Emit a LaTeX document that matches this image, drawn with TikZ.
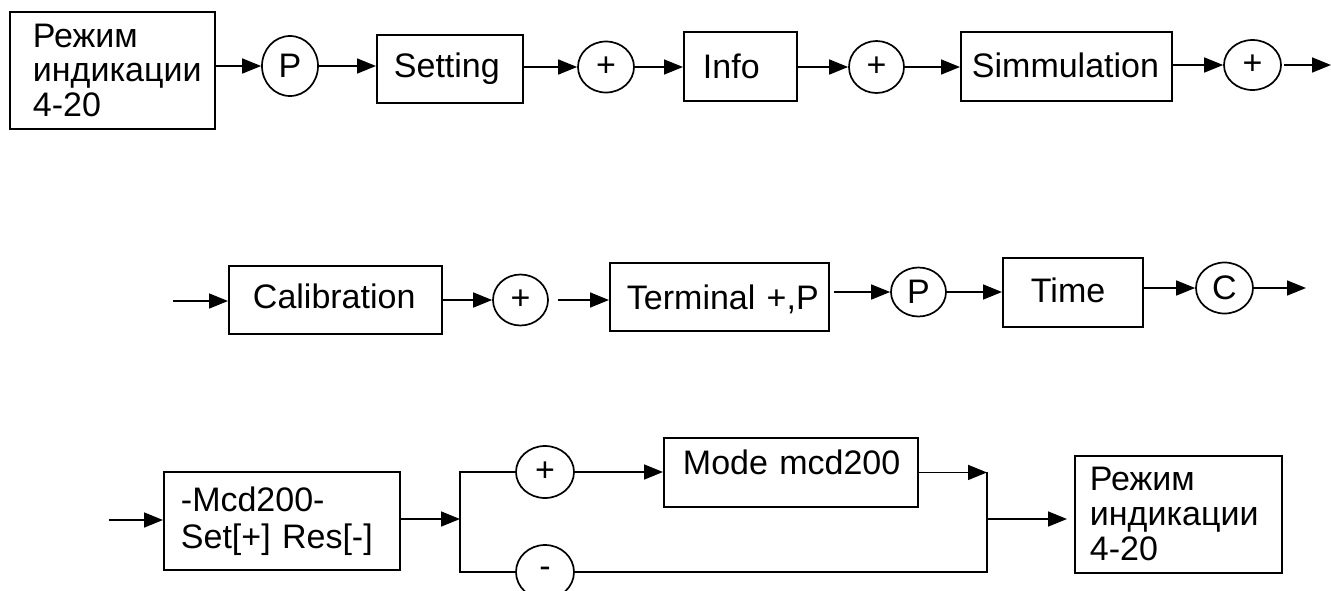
\documentclass[tikz,border=0pt]{standalone}
\usepackage{fontspec}
\setmainfont{Liberation Sans}
\usetikzlibrary{arrows.meta,shapes.geometric}
\hyphenpenalty=10000
\exhyphenpenalty=10000
\begin{document}
\begin{tikzpicture}[x=1pt,y=-1pt,
  lbl/.style={font=\fontsize{34}{34}\selectfont},
  blk/.style={draw, line width=1.9pt, inner sep=0pt, anchor=north west, align=left, lbl},
  one/.style={blk, text height=24.3pt},
  rnd/.style={draw, ellipse, line width=1.7pt, inner sep=0pt, lbl},
  arr/.style={line width=1.6pt, -{Triangle[length=19pt,width=15pt]}},
  ln/.style={line width=1.6pt}]
\useasboundingbox (0,0) rectangle (1331,590);
\fill[white] (0,0) rectangle (1331,590);
% row 1
\node[blk, font=\fontsize{34}{34.5}\selectfont, minimum width=205pt, minimum height=117pt, text width=159pt] (b1) at (9,11) {Режим\\индикации\\4-20};
\node[rnd, minimum width=56pt, minimum height=60pt] (p1) at (290,66) {P};
\node[one, text depth=6.3pt, minimum width=146pt, minimum height=68pt, text width=112pt] (setting) at (376,34) {Setting};
\node[rnd, minimum width=56pt, minimum height=51pt] (c1) at (606,67) {+};
\node[one, text depth=0pt, minimum width=113pt, minimum height=69pt, text width=75pt] (info) at (683,31) {Info};
\node[rnd, minimum width=55pt, minimum height=52pt] (c2) at (876.5,67) {+};
\node[one, text depth=1.3pt, minimum width=211pt, minimum height=69pt, text width=189pt] (simm) at (960,31) {Simmulation};
\node[rnd, minimum width=57pt, minimum height=50pt] (c3) at (1252.5,65) {+};
\coordinate (o1) at (1331,64);
% row 2
\coordinate (i2) at (173,301);
\node[one, text depth=6.3pt, minimum width=213pt, minimum height=68pt, text width=165pt] (calib) at (228,265) {Calibration};
\node[rnd, minimum width=55pt, minimum height=51pt] (c4) at (520.5,300) {+};
\node[one, text depth=0pt, minimum width=219pt, minimum height=68pt, text width=185pt] (term) at (609,262) {Terminal~+,P};
\node[rnd, minimum width=55pt, minimum height=49pt] (p2) at (918.5,292) {P};
\node[one, text depth=3.3pt, minimum width=140pt, minimum height=69pt, text width=84pt] (time) at (1002,257) {Time};
\node[rnd, minimum width=57pt, minimum height=51pt] (cc) at (1224.5,288) {C};
\coordinate (o2) at (1306,288);
% row 3
\coordinate (i3) at (109,520);
\node[blk, font=\fontsize{34}{37}\selectfont, minimum width=236pt, minimum height=98pt, text width=202pt] (mcd) at (163,471) {-Mcd200-\\Set[+]~Res[-]};
\coordinate (jl) at (460,519);
\node[rnd, minimum width=58pt, minimum height=52pt] (c5) at (545,472) {+};
\node[rnd, minimum width=58pt, minimum height=54pt] (cm) at (545,572) {-};
\node[one, text depth=19.3pt, minimum width=254pt, minimum height=69pt, text width=216pt] (mode) at (663,437) {Mode~mcd200};
\coordinate (jr) at (987,519);
\node[blk, font=\fontsize{34}{35}\selectfont, minimum width=207pt, minimum height=117pt, text width=177pt] (fin) at (1074,455) {Режим\\индикации\\4-20};
% connectors row 1
\draw[arr] (b1.east |- p1.west) -- (p1.west);
\draw[arr] (p1.east) -- (setting.west |- p1.east);
\draw[arr] (setting.east |- c1.west) -- (c1.west);
\draw[arr] (c1.east) -- (info.west |- c1.east);
\draw[arr] (info.east |- c2.west) -- (c2.west);
\draw[arr] (c2.east) -- (simm.west |- c2.east);
\draw[arr] (simm.east |- c3.west) -- (c3.west);
\draw[arr, shorten <=2pt] (c3.east) -- (o1 |- c3.east);
% connectors row 2
\draw[arr] (i2) -- (calib.west |- i2);
\draw[arr] (calib.east |- c4.west) -- (c4.west);
\draw[arr, shorten <=9pt] (c4.east) -- (term.west |- c4.east);
\draw[arr, shorten <=4pt] (term.east |- p2.west) -- (p2.west);
\draw[arr] (p2.east) -- (time.west |- p2.east);
\draw[arr] (time.east |- cc.west) -- (cc.west);
\draw[arr] (cc.east) -- (o2);
% connectors row 3
\draw[arr] (i3) -- (mcd.west |- i3);
\draw[arr] (mcd.east |- jl) -- (jl);
\draw[ln] (c5.west) -| (jl) |- (cm.west);
\draw[arr] (c5.east) -- (mode.west |- c5.east);
\draw[arr] (mode.east) -- (mode.east -| jr);
\draw[ln] (mode.east -| jr) -- (jr |- cm.east) -- (cm.east);
\draw[arr, shorten >=7pt] (jr) -- (fin.west |- jr);
\end{tikzpicture}
\end{document}
